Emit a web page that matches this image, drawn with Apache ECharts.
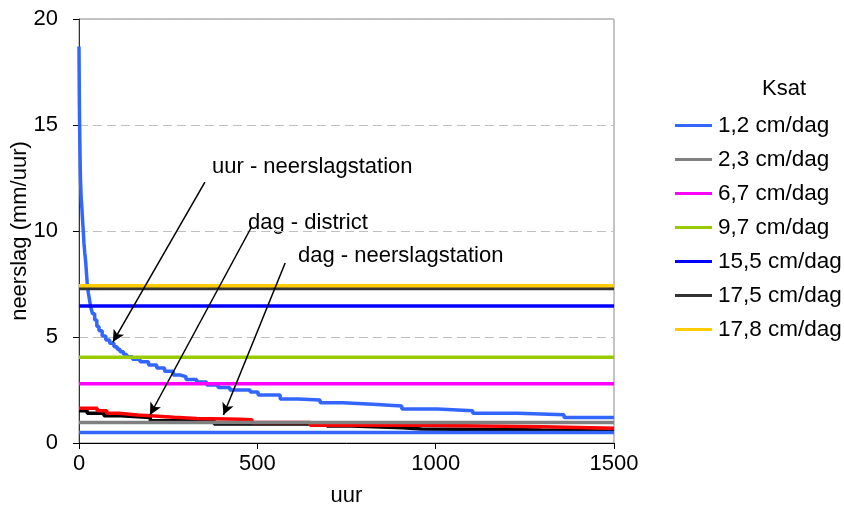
<!DOCTYPE html>
<html><head><meta charset="utf-8">
<script src="https://cdn.jsdelivr.net/npm/echarts@6/dist/echarts.min.js"></script>
<style>html,body{margin:0;padding:0;background:#fff}#c{width:844px;height:506px}</style>
</head><body><div id="c"></div>
<script>
// Ksat levels (mm/uur) and legend names
const ksatNames = ['1,2 cm/dag','2,3 cm/dag','6,7 cm/dag','9,7 cm/dag','15,5 cm/dag','17,5 cm/dag','17,8 cm/dag'];
const ksatValues = [0.49, 0.97, 2.8, 4.04, 6.46, 7.29, 7.42];
const ksatColors = ['#3366FF','#808080','#FF00FF','#99CC00','#0000FF','#333333','#FFCC00'];
const xRange = [0, 1500];

// duration curves: [uur, neerslag]
const uurStation = [[0,18.7],[1,16],[2,14.7],[3,13.5],[4,12.5],[6,11.6],[8,11.1],[10,10.5],[12,10.0],[14,9.4],[16,9.0],[19,8.5],[21,8.0],[23,7.55],[26,7.1],[30,6.7],[33,6.4],[38,6.1],[44,5.8],[50,5.5],[56,5.3],[65,5.05],[75,4.86],[86,4.7],[98,4.54],[107,4.42],[115,4.31],[125,4.18],[134,4.07],[150,3.95],[171,3.83],[195,3.68],[218,3.54],[240,3.38],[264,3.21],[283,3.13],[300,3.0],[330,2.88],[358,2.74],[390,2.62],[423,2.5],[480,2.4],[502,2.26],[564,2.07],[614,2.03],[676,1.9],[740,1.83],[824,1.75],[905,1.6],[1006,1.52],[1104,1.4],[1230,1.33],[1360,1.2],[1500,1.2]];
const dagDistrict = [[0,1.64],[51,1.52],[78,1.40],[112,1.32],[163,1.29],[201,1.24],[243,1.21],[266,1.16],[330,1.12],[451,1.1],[485,0.97],[648,0.84],[965,0.77],[1300,0.69],[1500,0.69]];
const dagStation = [[0,1.52],[23,1.40],[70,1.29],[117,1.2],[200,1.05],[379,0.9],[695,0.8],[765,0.72],[908,0.66],[960,0.63],[1245,0.61],[1296,0.55],[1500,0.55]];

// annotation arrows in data units: [from, to]
const arrows = [[[353,12.31],[95,4.76]],[[484,10.2],[199,1.32]],[[578,8.49],[405,1.32]]];
const annoTexts = ['uur - neerslagstation','dag - district','dag - neerslagstation'];
const xTicks = {min:0,max:1500,interval:500};
const yTicks = {min:0,max:20,interval:5};

const FONT = 'Liberation Sans';
const LW = 3.5;
const chart = echarts.init(document.getElementById('c'));
const series = [];
const curveDefs = [[dagStation,'#000000'],[dagDistrict,'#FF0000'],[uurStation,'#3366FF']];
curveDefs.forEach(([d,c],i)=>{
  series.push({type:'line',name:'curve'+i,data:d,step:'end',showSymbol:false,symbol:'none',
    lineStyle:{color:c,width:LW},itemStyle:{color:c},z:2,silent:true});
});
ksatNames.forEach((n,i)=>{
  series.push({type:'line',name:n,data:[[xRange[0],ksatValues[i]],[xRange[1],ksatValues[i]]],
    symbol:'none',lineStyle:{color:ksatColors[i],width:LW},itemStyle:{color:ksatColors[i]},z:3,silent:true});
});
series.push({type:'line',name:'arrows',data:[],silent:true,
  markLine:{silent:true,symbol:['none','arrow'],symbolSize:[9,12],label:{show:false},
    lineStyle:{color:'#000',width:1.5,type:'solid'},
    data:arrows.map(a=>[{coord:a[0]},{coord:a[1]}])},z:5});

chart.setOption({
  animation:false,
  textStyle:{fontFamily:FONT},
  grid:{left:79,right:230,top:19,bottom:63,show:true,borderColor:'#888',borderWidth:1,backgroundColor:'#fff',
    containLabel:false,outerBoundsMode:'none'},
  xAxis:{type:'value',min:xTicks.min,max:xTicks.max,interval:xTicks.interval,
    name:'uur',nameLocation:'middle',nameGap:42,nameMoveOverlap:false,nameTextStyle:{fontSize:22,color:'#000',fontFamily:FONT},
    axisLine:{show:true,lineStyle:{color:'#000',width:1}},
    axisTick:{show:true,length:6,lineStyle:{color:'#000'}},
    axisLabel:{fontSize:22,color:'#000',margin:10,fontFamily:FONT,formatter:v=>String(v)},
    splitLine:{show:false}},
  yAxis:{type:'value',min:yTicks.min,max:yTicks.max,interval:yTicks.interval,
    name:'neerslag (mm/uur)',nameLocation:'middle',nameGap:48,nameMoveOverlap:false,nameTextStyle:{fontSize:22,color:'#000',fontFamily:FONT},
    axisLine:{show:true,lineStyle:{color:'#333',width:1}},
    axisTick:{show:true,length:6,lineStyle:{color:'#000'}},
    axisLabel:{fontSize:22,color:'#000',margin:21,fontFamily:FONT},
    splitLine:{show:true,lineStyle:{color:'#C0C0C0',type:[9,5],width:1}}},
  legend:{data:ksatNames,orient:'vertical',left:675,top:114,padding:0,itemWidth:37,itemHeight:3,icon:'rect',
    itemGap:11,textStyle:{fontSize:22.5,color:'#000',fontFamily:FONT,padding:[0,0,0,1]}},
  graphic:[
    {type:'text',left:762,top:78,style:{text:'Ksat',fontSize:22,fontFamily:FONT,fill:'#000'}},
    {type:'text',left:212,top:156,style:{text:annoTexts[0],fontSize:22,fontFamily:FONT,fill:'#000'}},
    {type:'text',left:248,top:212,style:{text:annoTexts[1],fontSize:22,fontFamily:FONT,fill:'#000'}},
    {type:'text',left:298,top:245,style:{text:annoTexts[2],fontSize:22,fontFamily:FONT,fill:'#000'}}
  ],
  series:series
});
</script></body></html>
